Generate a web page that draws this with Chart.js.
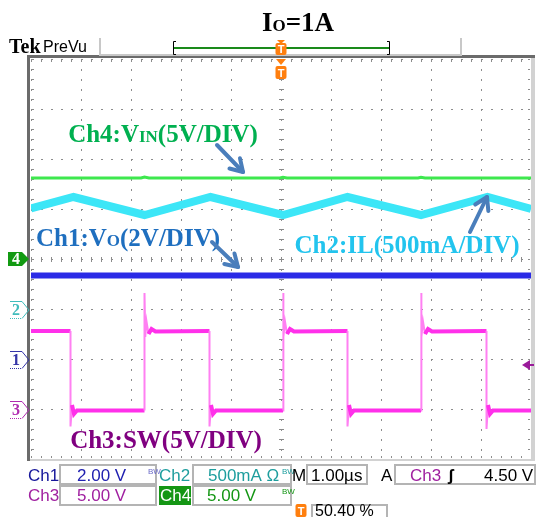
<!DOCTYPE html>
<html>
<head>
<meta charset="utf-8">
<script src="https://cdn.jsdelivr.net/npm/chart.js@4.4.0/dist/chart.umd.min.js"></script>
<style>
html, body { margin: 0; padding: 0; background: #fff; }
</style>
</head>
<body>
<canvas id="scope" width="536" height="517"></canvas>
<script>
// time in us (1.00us/div), level in divisions from screen centre
var ch4Time = [0, 2.2, 2.27, 2.36, 4.98, 5.04, 5.12, 7.74, 7.8, 7.88, 10];
var ch4Div  = [1.62, 1.62, 1.64, 1.62, 1.62, 1.635, 1.62, 1.62, 1.635, 1.62, 1.62];

var ch2Time = [0, 0.85, 2.27, 3.59, 5.04, 6.33, 7.8, 9.13, 10];
var ch2Div  = [1.01, 1.24, 0.88, 1.24, 0.88, 1.24, 0.88, 1.24, 1.0];

var ch1Time = [0, 10];
var ch1Div  = [-0.33, -0.33];

var ch3Time = [0, 0.79, 0.79, 0.82, 0.86, 0.92,
               2.27, 2.27, 2.285, 2.31, 2.35, 2.41, 2.49,
               3.57, 3.57, 3.6, 3.64, 3.7,
               5.04, 5.04, 5.055, 5.08, 5.12, 5.18, 5.26,
               6.33, 6.33, 6.36, 6.4, 6.46,
               7.8, 7.8, 7.815, 7.84, 7.88, 7.94, 8.02,
               9.11, 9.11, 9.14, 9.18, 9.24, 10];
var ch3Div  = [-1.44, -1.44, -3.35, -2.92, -3.1, -3.03,
               -3.03, -0.68, -1.56, -1.25, -1.5, -1.4, -1.45,
               -1.44, -3.35, -2.92, -3.1, -3.03,
               -3.03, -0.68, -1.56, -1.25, -1.5, -1.4, -1.45,
               -1.44, -3.35, -2.92, -3.1, -3.03,
               -3.03, -0.68, -1.56, -1.25, -1.5, -1.4, -1.45,
               -1.44, -3.4, -2.92, -3.1, -3.03, -3.03];

var ch3TrigLevel = -2.12;

function zip(t, v) {
	return t.map(function(x, i) { return {x: x, y: v[i]}; });
}

function richText(ctx, parts, cx, by, color) {
	var w = 0;
	parts.forEach(function(p) {
		ctx.font = 'bold ' + p[1] + 'px "Liberation Serif"';
		w += ctx.measureText(p[0]).width;
	});
	var x = cx - w / 2;
	ctx.fillStyle = color;
	ctx.textAlign = 'left';
	ctx.textBaseline = 'alphabetic';
	parts.forEach(function(p) {
		ctx.font = 'bold ' + p[1] + 'px "Liberation Serif"';
		ctx.fillText(p[0], x, by);
		x += ctx.measureText(p[0]).width;
	});
}

function arrow(ctx, x1, y1, x2, y2) {
	ctx.save();
	ctx.strokeStyle = '#4a7ebb';
	ctx.lineWidth = 4;
	ctx.lineCap = 'round';
	ctx.lineJoin = 'round';
	ctx.beginPath();
	ctx.moveTo(x1, y1);
	ctx.lineTo(x2, y2);
	ctx.stroke();
	var a = Math.atan2(y2 - y1, x2 - x1), h = 14;
	ctx.beginPath();
	ctx.moveTo(x2 - h * Math.cos(a - 0.55), y2 - h * Math.sin(a - 0.55));
	ctx.lineTo(x2, y2);
	ctx.lineTo(x2 - h * Math.cos(a + 0.55), y2 - h * Math.sin(a + 0.55));
	ctx.stroke();
	ctx.restore();
}

function sideMarker(ctx, y, num, color, filled) {
	ctx.save();
	if (filled) {
		ctx.fillStyle = color;
		ctx.beginPath();
		ctx.moveTo(8, y - 7); ctx.lineTo(22, y - 7); ctx.lineTo(29, y);
		ctx.lineTo(22, y + 7); ctx.lineTo(8, y + 7); ctx.closePath();
		ctx.fill();
		ctx.fillStyle = '#fff';
	} else {
		ctx.strokeStyle = color;
		ctx.lineWidth = 1;
		ctx.beginPath();
		ctx.moveTo(10, y - 8.5); ctx.lineTo(22, y - 8.5); ctx.lineTo(29, y); ctx.lineTo(22, y + 8.5);
		ctx.stroke();
		ctx.setLineDash([1, 1]);
		ctx.beginPath();
		ctx.moveTo(10, y + 8.5); ctx.lineTo(22, y + 8.5);
		ctx.stroke();
		ctx.fillStyle = color;
	}
	ctx.font = 'bold 16px "Liberation Serif"';
	ctx.textAlign = 'center';
	ctx.textBaseline = 'middle';
	ctx.fillText(num, 16, y + 1);
	ctx.restore();
}

function tBox(ctx, cx, top, h) {
	ctx.fillStyle = '#ff7f0e';
	ctx.beginPath();
	ctx.roundRect(cx - 5.5, top, 11, h, 2);
	ctx.fill();
	ctx.fillStyle = '#fff';
	ctx.font = 'bold 11px "Liberation Sans"';
	ctx.textAlign = 'center';
	ctx.textBaseline = 'middle';
	ctx.fillText('T', cx, top + h / 2 + 1);
}

function field(ctx, x, y, w, h) {
	ctx.strokeStyle = '#b4b4b4';
	ctx.lineWidth = 2;
	ctx.strokeRect(x, y, w, h);
}

function txt(ctx, s, x, y, color, size, weight) {
	ctx.fillStyle = color;
	ctx.font = (weight || '') + ' ' + (size || 17) + 'px "Liberation Sans"';
	ctx.textAlign = 'left';
	ctx.textBaseline = 'alphabetic';
	ctx.fillText(s, x, y);
}

var scopePlugin = {
	id: 'scope',
	beforeDatasetsDraw: function(chart) {
		var ctx = chart.ctx, xs = chart.scales.x, ys = chart.scales.y, a = chart.chartArea;
		var cx = xs.getPixelForValue(5), cy = ys.getPixelForValue(0);
		ctx.save();
		ctx.fillStyle = '#8c8c8c';
		var k, p;
		for (k = 0; k <= 50; k++) {
			p = Math.round(xs.getPixelForValue(k * 0.2));
			ctx.fillRect(p, Math.round(cy) - 2, 1, 5);
			ctx.fillRect(p, a.top + 1, 1, 2);
			ctx.fillRect(p, a.bottom - 3, 1, 2);
		}
		for (k = 0; k <= 40; k++) {
			p = Math.round(ys.getPixelForValue(-4 + k * 0.2));
			ctx.fillRect(Math.round(cx) - 2, p, 5, 1);
			ctx.fillRect(a.left + 1, p, 2, 1);
			ctx.fillRect(a.right - 3, p, 2, 1);
		}
		ctx.restore();
	},
	afterDatasetsDraw: function(chart) {
		var ctx = chart.ctx, xs = chart.scales.x, ys = chart.scales.y;
		function X(t) { return xs.getPixelForValue(t); }
		function Y(d) { return ys.getPixelForValue(d); }
		ctx.save();
		richText(ctx, [['Ch4:V', 25], ['IN', 17], ['(5V/DIV)', 25]], X(2.64), Y(2.34), '#00b050');
		richText(ctx, [['Ch1:V', 25], ['O', 17], ['(2V/DIV)', 25]], X(1.94), Y(0.26), '#1f6fbf');
		richText(ctx, [['Ch2:IL(500mA/DIV)', 25]], X(7.52), Y(0.12), '#22c4ee');
		richText(ctx, [['Ch3:SW(5V/DIV)', 25]], X(2.7), Y(-3.78), '#800080');
		arrow(ctx, X(3.72), Y(2.28), X(4.24), Y(1.74));
		arrow(ctx, X(3.62), Y(0.34), X(4.14), Y(-0.16));
		arrow(ctx, X(8.78), Y(0.54), X(9.12), Y(1.24));
		ctx.restore();
	},
	afterDraw: function(chart) {
		var ctx = chart.ctx, xs = chart.scales.x, ys = chart.scales.y, a = chart.chartArea;
		var cx = xs.getPixelForValue(5);
		ctx.save();

		// graticule frame
		ctx.fillStyle = '#d2d2d2';
		ctx.fillRect(a.right, a.top - 3, 4, a.bottom - a.top + 4);
		ctx.fillRect(a.left - 3, a.bottom, a.right - a.left + 7, 2);
		ctx.fillStyle = '#6b6b6b';
		ctx.fillRect(a.left - 4, a.top - 4, a.right - a.left + 8, 3);
		ctx.fillRect(a.left - 4, a.top - 4, 3, a.bottom - a.top + 6);

		// title
		richText(ctx, [['I', 27], ['O', 17], ['=1A', 27]], 298, 31, '#000');

		// top status line
		ctx.fillStyle = '#000';
		ctx.font = 'bold 20px "Liberation Serif"';
		ctx.textAlign = 'left';
		ctx.textBaseline = 'alphabetic';
		ctx.fillText('Tek', 9, 53);
		txt(ctx, 'PreVu', 43, 52, '#000', 16);
		ctx.strokeStyle = '#c8c8c8';
		ctx.lineWidth = 2;
		ctx.beginPath();
		ctx.moveTo(100, 38); ctx.lineTo(100, 55); ctx.lineTo(461, 55); ctx.lineTo(461, 38);
		ctx.stroke();
		ctx.strokeStyle = '#1a8a1a';
		ctx.beginPath();
		ctx.moveTo(174, 48); ctx.lineTo(389, 48);
		ctx.stroke();
		ctx.strokeStyle = '#000';
		ctx.lineWidth = 1;
		ctx.beginPath();
		ctx.moveTo(176, 41.5); ctx.lineTo(173.5, 41.5); ctx.lineTo(173.5, 54.5); ctx.lineTo(176, 54.5);
		ctx.moveTo(387, 41.5); ctx.lineTo(389.5, 41.5); ctx.lineTo(389.5, 54.5); ctx.lineTo(387, 54.5);
		ctx.stroke();
		ctx.fillStyle = '#ff7f0e';
		ctx.beginPath();
		ctx.moveTo(cx - 4, 40); ctx.lineTo(cx + 4, 40); ctx.lineTo(cx, 44); ctx.closePath();
		ctx.fill();
		tBox(ctx, cx, 43, 12);
		ctx.fillStyle = '#ff7f0e';
		ctx.beginPath();
		ctx.moveTo(cx - 5, a.top); ctx.lineTo(cx + 5, a.top); ctx.lineTo(cx, a.top + 6); ctx.closePath();
		ctx.fill();
		tBox(ctx, cx, a.top + 7, 13);

		// channel ground markers
		sideMarker(ctx, ys.getPixelForValue(0), '4', '#129a12', true);
		sideMarker(ctx, ys.getPixelForValue(-1.02), '2', '#3fbcbc', false);
		sideMarker(ctx, ys.getPixelForValue(-2.02), '1', '#3535a8', false);
		sideMarker(ctx, ys.getPixelForValue(-3.02), '3', '#b02ab0', false);

		// trigger level marker
		var ty = ys.getPixelForValue(ch3TrigLevel);
		ctx.fillStyle = '#9a1a9a';
		ctx.beginPath();
		ctx.moveTo(a.right - 9, ty); ctx.lineTo(a.right - 1, ty - 5); ctx.lineTo(a.right - 1, ty + 5); ctx.closePath();
		ctx.fill();
		ctx.fillRect(a.right - 2, ty - 1, 5, 2);

		// readout
		var r1 = 481, r2 = 501;
		txt(ctx, 'Ch1', 28, r1, '#16169a');
		field(ctx, 60, 465, 96, 19);
		txt(ctx, '2.00 V', 77, r1, '#2020b0');
		txt(ctx, 'BW', 148, 474, '#6a6ac8', 8);
		txt(ctx, 'Ch2', 159, r1, '#1e9e9e');
		field(ctx, 193, 465, 98, 19);
		txt(ctx, '500mA \u03a9', 208, r1, '#1e9e9e');
		txt(ctx, 'BW', 282, 474, '#1e9e9e', 8);
		txt(ctx, 'M', 292, r1, '#000');
		field(ctx, 307, 465, 60, 19);
		txt(ctx, '1.00\u00b5s', 311, r1, '#000');
		txt(ctx, 'A', 381, r1, '#000');
		field(ctx, 395, 465, 140, 19);
		txt(ctx, 'Ch3', 410, r1, '#a020a0');
		txt(ctx, '\u0283', 448, r1, '#000', 17, 'bold');
		txt(ctx, '4.50 V', 484, r1, '#000');

		txt(ctx, 'Ch3', 28, r2, '#a020a0');
		field(ctx, 60, 486, 96, 19);
		txt(ctx, '5.00 V', 77, r2, '#a020a0');
		ctx.fillStyle = '#149614';
		ctx.fillRect(159, 486, 32, 19);
		txt(ctx, 'Ch4', 160, r2, '#fff');
		field(ctx, 193, 486, 98, 19);
		txt(ctx, '5.00 V', 207, r2, '#149614');
		txt(ctx, 'BW', 282, 494, '#149614', 8);

		tBox(ctx, 301, 504, 13);
		field(ctx, 312, 505, 75, 16);
		txt(ctx, '50.40 %', 315, 516, '#000', 16);
		ctx.restore();
	}
};

// steep parts of the switch node trace are drawn thin, like the scope does
var ch3Steep = function(c) {
	var dx = Math.abs(c.p1.parsed.x - c.p0.parsed.x), dy = Math.abs(c.p1.parsed.y - c.p0.parsed.y);
	return dx === 0 || dy / dx > 6;
};

var scope = new Chart(document.getElementById('scope'), {
	type: 'scatter',
	data: {
		datasets: [
			{
				label: 'Ch4',
				data: zip(ch4Time, ch4Div),
				showLine: true,
				borderColor: '#3ee84e',
				borderWidth: 3,
				pointRadius: 0
			},
			{
				label: 'Ch2',
				data: zip(ch2Time, ch2Div),
				showLine: true,
				borderColor: '#3ce6f7',
				borderWidth: 8,
				pointRadius: 0
			},
			{
				label: 'Ch1',
				data: zip(ch1Time, ch1Div),
				showLine: true,
				borderColor: '#2b2be6',
				borderWidth: 6,
				pointRadius: 0
			},
			{
				label: 'Ch3',
				data: zip(ch3Time, ch3Div),
				showLine: true,
				borderColor: '#ff30ea',
				borderWidth: 4,
				pointRadius: 0,
				segment: {
					borderWidth: function(c) { return ch3Steep(c) ? 2 : 4; },
					borderColor: function(c) { return ch3Steep(c) ? '#ff80f2' : '#ff30ea'; }
				}
			}
		]
	},
	options: {
		responsive: false,
		animation: false,
		layout: { padding: { left: 31, right: 5, top: 59, bottom: 58 } },
		plugins: {
			legend: { display: false },
			tooltip: { enabled: false }
		},
		scales: {
			x: {
				type: 'linear', min: 0, max: 10,
				ticks: { display: false, stepSize: 1 },
				grid: { color: '#8c8c8c', lineWidth: 1, drawTicks: false },
				border: { display: false, dash: [2, 8] }
			},
			y: {
				type: 'linear', min: -4, max: 4,
				ticks: { display: false, stepSize: 1 },
				grid: { color: '#8c8c8c', lineWidth: 1, drawTicks: false },
				border: { display: false, dash: [2, 8] }
			}
		}
	},
	plugins: [scopePlugin]
});
</script>
</body>
</html>
